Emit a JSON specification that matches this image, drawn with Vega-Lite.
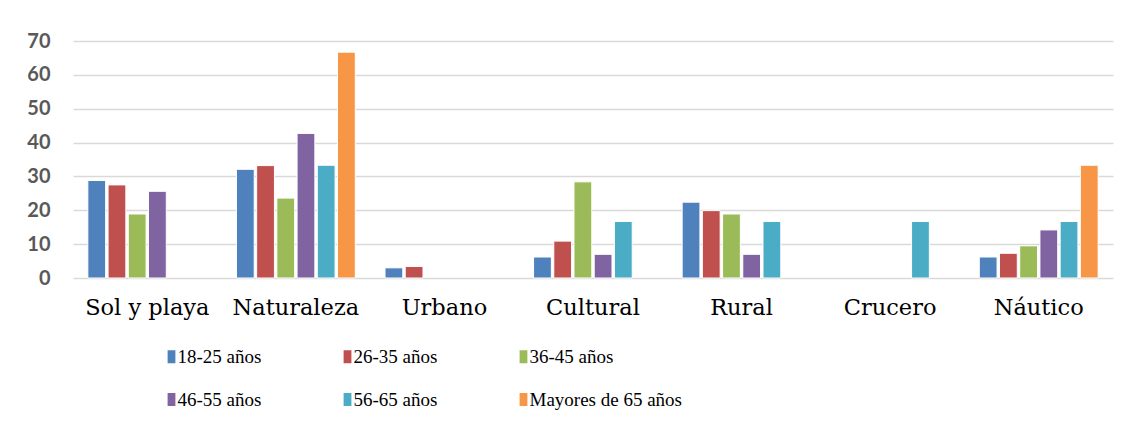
{
  "$schema": "https://vega.github.io/schema/vega-lite/v6.json",
  "width": 1040,
  "height": 237,
  "autosize": {"type": "none"},
  "padding": {"left": 73, "top": 41, "right": 25, "bottom": 147},
  "background": "white",
  "config": {"view": {"stroke": null}},
  "data": {
    "values": [
      {"cat": "Sol y playa", "edad": "18-25 años", "v": 28.8},
      {"cat": "Sol y playa", "edad": "26-35 años", "v": 27.5},
      {"cat": "Sol y playa", "edad": "36-45 años", "v": 18.9},
      {"cat": "Sol y playa", "edad": "46-55 años", "v": 25.6},
      {"cat": "Naturaleza", "edad": "18-25 años", "v": 32.1},
      {"cat": "Naturaleza", "edad": "26-35 años", "v": 33.2},
      {"cat": "Naturaleza", "edad": "36-45 años", "v": 23.6},
      {"cat": "Naturaleza", "edad": "46-55 años", "v": 42.7},
      {"cat": "Naturaleza", "edad": "56-65 años", "v": 33.3},
      {"cat": "Naturaleza", "edad": "Mayores de 65 años", "v": 66.7},
      {"cat": "Urbano", "edad": "18-25 años", "v": 3.0},
      {"cat": "Urbano", "edad": "26-35 años", "v": 3.4},
      {"cat": "Cultural", "edad": "18-25 años", "v": 6.2},
      {"cat": "Cultural", "edad": "26-35 años", "v": 10.9},
      {"cat": "Cultural", "edad": "36-45 años", "v": 28.4},
      {"cat": "Cultural", "edad": "46-55 años", "v": 7.0},
      {"cat": "Cultural", "edad": "56-65 años", "v": 16.7},
      {"cat": "Rural", "edad": "18-25 años", "v": 22.4},
      {"cat": "Rural", "edad": "26-35 años", "v": 19.9},
      {"cat": "Rural", "edad": "36-45 años", "v": 18.9},
      {"cat": "Rural", "edad": "46-55 años", "v": 7.0},
      {"cat": "Rural", "edad": "56-65 años", "v": 16.7},
      {"cat": "Crucero", "edad": "56-65 años", "v": 16.7},
      {"cat": "Náutico", "edad": "18-25 años", "v": 6.2},
      {"cat": "Náutico", "edad": "26-35 años", "v": 7.3},
      {"cat": "Náutico", "edad": "36-45 años", "v": 9.5},
      {"cat": "Náutico", "edad": "46-55 años", "v": 14.2},
      {"cat": "Náutico", "edad": "56-65 años", "v": 16.7},
      {"cat": "Náutico", "edad": "Mayores de 65 años", "v": 33.3}
    ]
  },
  "mark": {"type": "bar", "stroke": "white", "strokeWidth": 1},
  "encoding": {
    "x": {
      "field": "cat",
      "type": "nominal",
      "sort": ["Sol y playa", "Naturaleza", "Urbano", "Cultural", "Rural", "Crucero", "Náutico"],
      "scale": {"paddingInner": 0.2, "paddingOuter": 0.1},
      "axis": {
        "title": null,
        "labelAngle": 0,
        "domain": false,
        "ticks": false,
        "tickSize": 0,
        "labelPadding": 18,
        "labelFont": "DejaVu Serif",
        "labelFontSize": 22.5,
        "labelColor": "#000000"
      }
    },
    "xOffset": {
      "field": "edad",
      "type": "nominal",
      "scale": {
        "domain": ["18-25 años", "26-35 años", "36-45 años", "46-55 años", "56-65 años", "Mayores de 65 años"],
        "paddingInner": 0.12
      }
    },
    "y": {
      "field": "v",
      "type": "quantitative",
      "scale": {"domain": [0, 70], "nice": false},
      "axis": {
        "title": null,
        "values": [0, 10, 20, 30, 40, 50, 60, 70],
        "domain": false,
        "ticks": false,
        "tickSize": 0,
        "labelPadding": 23,
        "labelFont": "Lato",
        "labelFontWeight": "bold",
        "labelFontSize": 20,
        "labelColor": "#595959",
        "gridColor": "#d9d9d9",
        "gridWidth": 1.5
      }
    },
    "color": {
      "field": "edad",
      "type": "nominal",
      "scale": {
        "domain": ["18-25 años", "26-35 años", "36-45 años", "46-55 años", "56-65 años", "Mayores de 65 años"],
        "range": ["#4F81BD", "#C0504D", "#9BBB59", "#8064A2", "#4BACC6", "#F79646"]
      },
      "legend": {
        "title": null,
        "orient": "none",
        "legendX": 89,
        "legendY": 306,
        "direction": "horizontal",
        "columns": 3,
        "gridAlign": "all",
        "columnPadding": 8,
        "rowPadding": 23,
        "padding": 0,
        "symbolType": "M-0.6,-1H0.6V1H-0.6Z",
        "symbolSize": 169,
        "symbolStrokeWidth": 0,
        "labelOffset": -3.5,
        "labelFont": "Liberation Serif",
        "labelFontSize": 19,
        "labelColor": "#000000",
        "labelLimit": 300
      }
    }
  }
}
